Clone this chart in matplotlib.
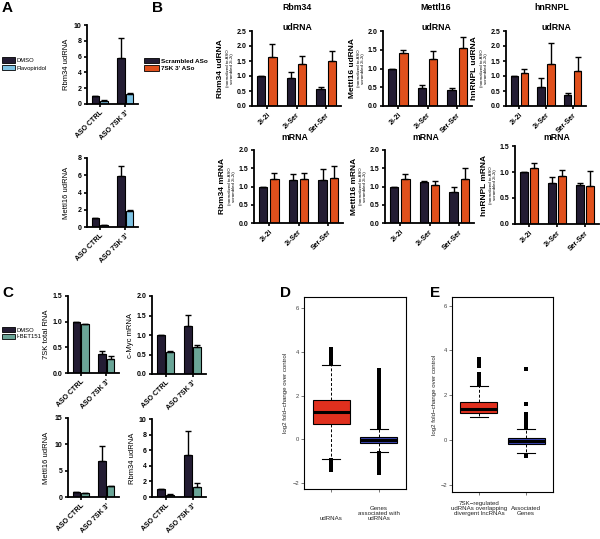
import numpy as np
import matplotlib
matplotlib.use("Agg")
import matplotlib.pyplot as plt
from matplotlib.patches import Patch
from matplotlib.ticker import FormatStrFormatter
from matplotlib.transforms import blended_transform_factory

plt.rcParams["font.family"] = ["Liberation Sans", "DejaVu Sans"]

W, H = 600, 539
DARK = "#231c33"
FLAVO = "#7ec3e4"
ORANGE = "#e0501c"
TEAL = "#6aa597"
RED = "#e0301e"
BLUE = "#3b45b5"

# ---- panel A ----
a_cats = ["ASO CTRL", "ASO 7SK 3'"]
a_rbm34_dmso = [1.0, 5.8]
a_rbm34_flavo = [0.4, 1.3]
a_rbm34_dmso_err = [0.0, 2.6]
a_rbm34_flavo_err = [0.08, 0.06]
a_mettl16_dmso = [1.0, 5.9]
a_mettl16_flavo = [0.2, 1.8]
a_mettl16_dmso_err = [0.0, 1.2]
a_mettl16_flavo_err = [0.03, 0.2]

# ---- panel B ----
b_cats = ["2i-2i", "2i-Ser", "Ser-Ser"]
b_rbm34_ud_scr = [1.0, 0.92, 0.56]
b_rbm34_ud_7sk = [1.62, 1.40, 1.50]
b_rbm34_ud_scr_err = [0.0, 0.22, 0.07]
b_rbm34_ud_7sk_err = [0.45, 0.26, 0.33]
b_mettl16_ud_scr = [1.0, 0.49, 0.44]
b_mettl16_ud_7sk = [1.41, 1.26, 1.54]
b_mettl16_ud_scr_err = [0.0, 0.06, 0.05]
b_mettl16_ud_7sk_err = [0.08, 0.20, 0.29]
b_hnrnpl_ud_scr = [1.0, 0.65, 0.37]
b_hnrnpl_ud_7sk = [1.11, 1.40, 1.17]
b_hnrnpl_ud_scr_err = [0.0, 0.27, 0.07]
b_hnrnpl_ud_7sk_err = [0.11, 0.70, 0.48]
b_rbm34_m_scr = [1.0, 1.19, 1.18]
b_rbm34_m_7sk = [1.20, 1.21, 1.22]
b_rbm34_m_scr_err = [0.0, 0.15, 0.30]
b_rbm34_m_7sk_err = [0.16, 0.17, 0.35]
b_mettl16_m_scr = [1.0, 1.11, 0.86]
b_mettl16_m_7sk = [1.20, 1.05, 1.20]
b_mettl16_m_scr_err = [0.0, 0.03, 0.12]
b_mettl16_m_7sk_err = [0.14, 0.09, 0.30]
b_hnrnpl_m_scr = [1.0, 0.79, 0.75]
b_hnrnpl_m_7sk = [1.07, 0.93, 0.73]
b_hnrnpl_m_scr_err = [0.0, 0.11, 0.04]
b_hnrnpl_m_7sk_err = [0.11, 0.11, 0.28]

# ---- panel C ----
c_7sk_dmso = [1.0, 0.37]
c_7sk_ibet = [0.95, 0.28]
c_7sk_dmso_err = [0.0, 0.06]
c_7sk_ibet_err = [0.01, 0.05]
c_myc_dmso = [1.0, 1.24]
c_myc_ibet = [0.57, 0.70]
c_myc_dmso_err = [0.0, 0.27]
c_myc_ibet_err = [0.01, 0.05]
c_mettl16_dmso = [1.0, 6.8]
c_mettl16_ibet = [0.7, 2.0]
c_mettl16_dmso_err = [0.0, 2.8]
c_mettl16_ibet_err = [0.05, 0.1]
c_rbm34_dmso = [1.0, 5.4]
c_rbm34_ibet = [0.3, 1.25]
c_rbm34_dmso_err = [0.0, 3.1]
c_rbm34_ibet_err = [0.05, 0.55]

# ---- panel D ----
d_labels = ["udRNAs", "Genes\nassociated with\nudRNAs"]
d_med = [1.23, -0.05]
d_q1 = [0.68, -0.17]
d_q3 = [1.78, 0.10]
d_whislo = [-0.91, -0.56]
d_whishi = [3.41, 0.49]
d_fliers_udrna = [3.46, 3.52, 3.58, 3.64, 3.70, 3.76, 3.82, 3.88, 3.94, 4.00, 4.06, 4.12,
                  -0.96, -1.02, -1.08, -1.14, -1.20, -1.26, -1.32, -1.38]
d_fliers_genes = [0.55, 0.65, 0.75, 0.85, 0.95, 1.05, 1.15, 1.25, 1.35, 1.45, 1.55, 1.65,
                  1.75, 1.85, 1.95, 2.05, 2.15, 2.25, 2.35, 2.50, 2.58, 2.76, 2.84,
                  2.95, 3.03, 3.11, 3.18,
                  -0.62, -0.72, -0.82, -0.92, -1.02, -1.12, -1.22, -1.32, -1.42, -1.52]

# ---- panel E ----
e_labels = ["7SK\u2212regulated\nudRNAs overlapping\ndivergent lncRNAs", "Associated\nGenes"]
e_med = [1.37, -0.04]
e_q1 = [1.19, -0.18]
e_q3 = [1.71, 0.09]
e_whislo = [1.01, -0.60]
e_whishi = [2.41, 0.48]
e_fliers_udrna = [2.48, 2.56, 2.64, 2.72, 2.80, 2.88, 2.95, 3.30, 3.38, 3.46, 3.54, 3.62]
e_fliers_genes = [0.52, 0.60, 0.68, 0.76, 0.84, 0.92, 1.00, 1.08, 1.14, 1.60, 3.17,
                  -0.66, -0.72]

fig = plt.figure(figsize=(6.0, 5.39), dpi=100)


def px_axes(x0, y0, x1, y1):
    return fig.add_axes([x0 / W, 1 - y1 / H, (x1 - x0) / W, (y1 - y0) / H])


def bar_panel(box, cats, s1, s2, e1, e2, c2, ylim, yticks, fmt, ylabel, note=None,
              width=0.3, off=0.17, lab_dx=31, note_dx=22, lab_fs=6, lab_w="bold"):
    ax = px_axes(*box)
    x = np.arange(len(cats))
    ekw = dict(elinewidth=1, capthick=1, ecolor="black")
    ax.bar(x - off, s1, width, color=DARK, edgecolor="black", lw=0.8,
           yerr=[np.zeros(len(e1)), e1], capsize=2, error_kw=ekw)
    ax.bar(x + off, s2, width, color=c2, edgecolor="black", lw=0.8,
           yerr=[np.zeros(len(e2)), e2], capsize=2, error_kw=ekw)
    ax.set_xlim(-0.5, len(cats) - 0.5)
    ax.set_ylim(*ylim)
    ax.set_yticks(yticks)
    ax.yaxis.set_major_formatter(FormatStrFormatter(fmt))
    ax.set_xticks(x)
    ax.set_xticklabels(cats, rotation=45, ha="right", rotation_mode="anchor")
    for s in ["top", "right"]:
        ax.spines[s].set_visible(False)
    for s in ["left", "bottom"]:
        ax.spines[s].set_linewidth(1.3)
    ax.tick_params(direction="out", length=2.5, width=1.2, labelsize=5, pad=1.5)
    for t in ax.get_xticklabels() + ax.get_yticklabels():
        t.set_fontweight("bold")
    yc = 1 - (box[1] + box[3]) / 2 / H
    fig.text((box[0] - lab_dx) / W, yc, ylabel, rotation=90, ha="center", va="center",
             fontsize=lab_fs, fontweight=lab_w)
    if note:
        fig.text((box[0] - note_dx) / W, yc, note, rotation=90, ha="center", va="center",
                 fontsize=3.2, linespacing=1.0)
    return ax


def box_panel(box, labels, med, q1, q3, wlo, whi, fl1, fl2, ylim, lab_y):
    ax = px_axes(*box)
    stats = []
    for i, fl in enumerate([fl1, fl2]):
        stats.append(dict(med=med[i], q1=q1[i], q3=q3[i], whislo=wlo[i], whishi=whi[i],
                          fliers=fl))
    bp = ax.bxp(stats, positions=[1, 2], widths=0.78, patch_artist=True,
                boxprops=dict(lw=0.8, edgecolor="black"),
                medianprops=dict(color="black", lw=2.2),
                whiskerprops=dict(ls=(0, (3, 2)), lw=0.7),
                capprops=dict(lw=0.8),
                flierprops=dict(marker="s", ms=3.0, mfc="black", mec="black", mew=0))
    for patch, col in zip(bp["boxes"], [RED, BLUE]):
        patch.set_facecolor(col)
    ax.set_xlim(0.43, 2.57)
    ax.set_ylim(*ylim)
    ax.set_yticks([-2, 0, 2, 4, 6])
    ax.set_xticks([1, 2])
    ax.set_xticklabels(["", ""])
    ax.tick_params(length=2, width=0.5, labelsize=4.2, colors="#444", pad=1.5)
    for s in ax.spines.values():
        s.set_linewidth(0.8)
    tr = blended_transform_factory(ax.transData, fig.transFigure)
    for i, lab in enumerate(labels):
        ax.text(i + 1, 1 - lab_y / H, lab, transform=tr, ha="center", va="bottom",
                fontsize=4.4, color="#222", linespacing=1.05)
    fig.text((box[0] - 18) / W, 1 - (box[1] + box[3]) / 2 / H,
             "log2 fold\u2212change over control", rotation=90, ha="center", va="center",
             fontsize=4.4, color="#222")
    return ax


# panel letters
for letter, (lx, ly) in {"A": (2, 8), "B": (152, 8), "C": (2, 293),
                         "D": (280, 293), "E": (430, 293)}.items():
    fig.text(lx / W, 1 - ly / H, letter, fontsize=11, fontweight="bold", va="center")

# A
bar_panel((87, 25, 138, 104), a_cats, a_rbm34_dmso, a_rbm34_flavo, a_rbm34_dmso_err,
          a_rbm34_flavo_err, FLAVO, (0, 10), [0, 2, 4, 6, 8, 10], "%d", "Rbm34 udRNA",
          lab_dx=20, lab_fs=5.5, lab_w="normal")
bar_panel((87, 158, 138, 227), a_cats, a_mettl16_dmso, a_mettl16_flavo, a_mettl16_dmso_err,
          a_mettl16_flavo_err, FLAVO, (0, 8), [0, 2, 4, 6, 8], "%d", "Mettl16 udRNA",
          lab_dx=20, lab_fs=5.5, lab_w="normal")
fig.legend(handles=[Patch(fc=DARK, ec="black", lw=0.6, label="DMSO"),
                    Patch(fc=FLAVO, ec="black", lw=0.6, label="Flavopiridol")],
           loc="upper left", bbox_to_anchor=(0 / W, 1 - 55 / H), frameon=False,
           fontsize=4.2, handlelength=2.2, handleheight=1.1, handletextpad=0.3,
           labelspacing=0.3, borderaxespad=0)

# B
note = "(normalized to ASO\nscrambled 2i-2i)"
bar_panel((252, 31, 341, 106), b_cats, b_rbm34_ud_scr, b_rbm34_ud_7sk, b_rbm34_ud_scr_err,
          b_rbm34_ud_7sk_err, ORANGE, (0, 2.5), [0, 0.5, 1, 1.5, 2, 2.5], "%.1f",
          "Rbm34 udRNA", note, width=0.28, off=0.19)
bar_panel((383, 31, 472, 106), b_cats, b_mettl16_ud_scr, b_mettl16_ud_7sk,
          b_mettl16_ud_scr_err, b_mettl16_ud_7sk_err, ORANGE, (0, 2.0),
          [0, 0.5, 1, 1.5, 2], "%.1f", "Mettl16 udRNA", note, width=0.28, off=0.19)
bar_panel((506, 31, 586, 106), b_cats, b_hnrnpl_ud_scr, b_hnrnpl_ud_7sk,
          b_hnrnpl_ud_scr_err, b_hnrnpl_ud_7sk_err, ORANGE, (0, 2.5),
          [0, 0.5, 1, 1.5, 2, 2.5], "%.1f", "hnRNPL udRNA", note, width=0.28, off=0.19)
bar_panel((254, 150, 343, 223), b_cats, b_rbm34_m_scr, b_rbm34_m_7sk, b_rbm34_m_scr_err,
          b_rbm34_m_7sk_err, ORANGE, (0, 2.0), [0, 0.5, 1, 1.5, 2], "%.1f",
          "Rbm34 mRNA", note, width=0.28, off=0.19)
bar_panel((385, 150, 474, 223), b_cats, b_mettl16_m_scr, b_mettl16_m_7sk,
          b_mettl16_m_scr_err, b_mettl16_m_7sk_err, ORANGE, (0, 2.0),
          [0, 0.5, 1, 1.5, 2], "%.1f", "Mettl16 mRNA", note, width=0.28, off=0.19)
bar_panel((515, 146, 599, 224), b_cats, b_hnrnpl_m_scr, b_hnrnpl_m_7sk,
          b_hnrnpl_m_scr_err, b_hnrnpl_m_7sk_err, ORANGE, (0, 1.5),
          [0, 0.5, 1, 1.5], "%.1f", "hnRNPL mRNA", note, width=0.28, off=0.19)
for txt, (tx, ty) in {"Rbm34": (297, 7), "Mettl16": (436, 7), "hnRNPL": (552, 7)}.items():
    fig.text(tx / W, 1 - ty / H, txt, ha="center", va="center", fontsize=6.3,
             fontweight="bold")
for tx in [297, 436, 556]:
    fig.text(tx / W, 1 - 27 / H, "udRNA", ha="center", va="center", fontsize=6.3,
             fontweight="bold")
for tx in [295, 426, 557]:
    fig.text(tx / W, 1 - 137 / H, "mRNA", ha="center", va="center", fontsize=6.3,
             fontweight="bold")
fig.legend(handles=[Patch(fc=DARK, ec="black", lw=0.6, label="Scrambled ASo"),
                    Patch(fc=ORANGE, ec="black", lw=0.6, label="7SK 3' ASo")],
           loc="upper left", bbox_to_anchor=(141 / W, 1 - 55 / H), frameon=False,
           prop=dict(size=4.6, weight="bold"), handlelength=2.4, handleheight=1.0,
           handletextpad=0.4, labelspacing=0.25, borderaxespad=0)

# C
bar_panel((68, 296, 119, 373), a_cats, c_7sk_dmso, c_7sk_ibet, c_7sk_dmso_err,
          c_7sk_ibet_err, TEAL, (0, 1.5), [0, 0.5, 1, 1.5], "%.1f", "7SK total RNA",
          lab_dx=22, lab_fs=5.5, lab_w="normal")
bar_panel((152, 296, 206, 374), a_cats, c_myc_dmso, c_myc_ibet, c_myc_dmso_err,
          c_myc_ibet_err, TEAL, (0, 2.0), [0, 0.5, 1, 1.5, 2], "%.1f", "c-Myc mRNA",
          lab_dx=22, lab_fs=5.5, lab_w="normal")
bar_panel((68, 418, 119, 497), a_cats, c_mettl16_dmso, c_mettl16_ibet, c_mettl16_dmso_err,
          c_mettl16_ibet_err, TEAL, (0, 15), [0, 5, 10, 15], "%d", "Mettl16 udRNA",
          lab_dx=22, lab_fs=5.5, lab_w="normal")
bar_panel((152, 419, 206, 497), a_cats, c_rbm34_dmso, c_rbm34_ibet, c_rbm34_dmso_err,
          c_rbm34_ibet_err, TEAL, (0, 10), [0, 2, 4, 6, 8, 10], "%d", "Rbm34 udRNA",
          lab_dx=20, lab_fs=5.5, lab_w="normal")
fig.legend(handles=[Patch(fc=DARK, ec="black", lw=0.6, label="DMSO"),
                    Patch(fc=TEAL, ec="black", lw=0.6, label="I-BET151")],
           loc="upper left", bbox_to_anchor=(0 / W, 1 - 325 / H), frameon=False,
           fontsize=4.2, handlelength=2.2, handleheight=0.9, handletextpad=0.3,
           labelspacing=0.2, borderaxespad=0)

# D and E
box_panel((304, 297, 406, 489), d_labels, d_med, d_q1, d_q3, d_whislo, d_whishi,
          d_fliers_udrna, d_fliers_genes, (-2.27, 6.5), 521)
box_panel((452, 297, 553, 492), e_labels, e_med, e_q1, e_q3, e_whislo, e_whishi,
          e_fliers_udrna, e_fliers_genes, (-2.32, 6.38), 516)

fig.savefig("out.png", dpi=100)
